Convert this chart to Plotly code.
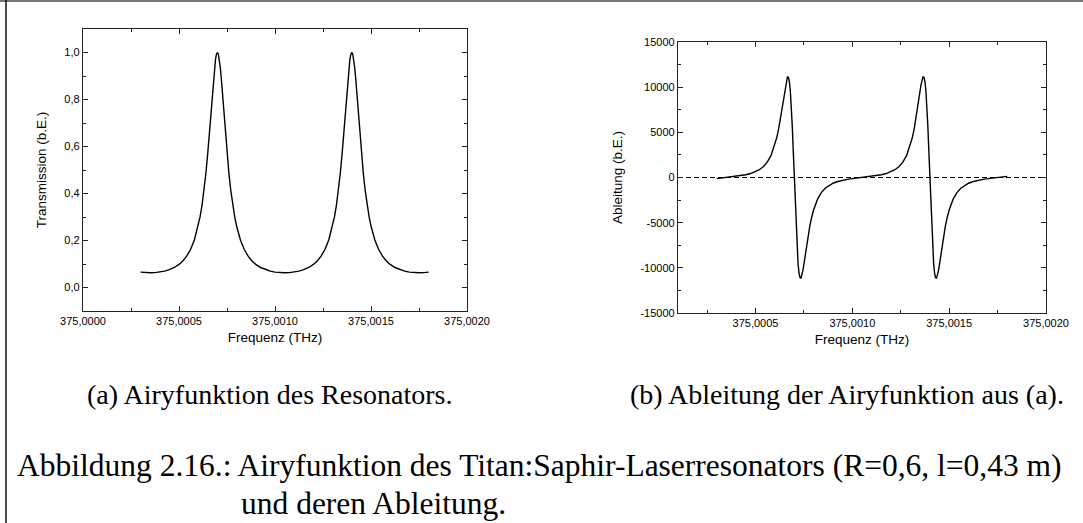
import plotly.graph_objects as go

# ---------------- data ----------------
freq_thz = [
    375.000300, 375.000325, 375.000350, 375.000375, 375.000400, 375.000425, 375.000450, 375.000475,
    375.000500, 375.000520, 375.000540, 375.000560, 375.000580, 375.000600, 375.000610, 375.000620,
    375.000630, 375.000640, 375.000650, 375.000655, 375.000660, 375.000665, 375.000670, 375.000675,
    375.000680, 375.000685, 375.000690, 375.000695, 375.000700,
    375.000705, 375.000710, 375.000715, 375.000720, 375.000725, 375.000730, 375.000735, 375.000740,
    375.000745, 375.000750, 375.000760, 375.000770, 375.000780, 375.000790, 375.000800, 375.000820,
    375.000840, 375.000860, 375.000880, 375.000900, 375.000925, 375.000950, 375.000975, 375.001000,
    375.001025, 375.001050,
    375.001075, 375.001100, 375.001125, 375.001150, 375.001175, 375.001200, 375.001220, 375.001240,
    375.001260, 375.001280, 375.001300, 375.001310, 375.001320, 375.001330, 375.001340, 375.001350,
    375.001355, 375.001360, 375.001365, 375.001370, 375.001375, 375.001380, 375.001385, 375.001390,
    375.001395, 375.001400,
    375.001405, 375.001410, 375.001415, 375.001420, 375.001425, 375.001430, 375.001435, 375.001440,
    375.001445, 375.001450, 375.001460, 375.001470, 375.001480, 375.001490, 375.001500, 375.001520,
    375.001540, 375.001560, 375.001580, 375.001600, 375.001625, 375.001650, 375.001675, 375.001700,
    375.001725, 375.001750, 375.001775, 375.001800,
]

transmission = [
    0.0655, 0.0632, 0.0625, 0.0632, 0.0655, 0.0696, 0.0759, 0.0851,
    0.0983, 0.1132, 0.1334, 0.1618, 0.2022, 0.2615, 0.3015, 0.3506,
    0.4111, 0.4851, 0.5738, 0.6236, 0.6765, 0.7315, 0.7872, 0.8417,
    0.8924, 0.9364, 0.9707, 0.9925, 1.0000,
    0.9925, 0.9707, 0.9364, 0.8924, 0.8417, 0.7872, 0.7315, 0.6765,
    0.6236, 0.5738, 0.4851, 0.4111, 0.3506, 0.3015, 0.2615, 0.2022,
    0.1618, 0.1334, 0.1132, 0.0983, 0.0851, 0.0759, 0.0696, 0.0655,
    0.0632, 0.0625,
    0.0632, 0.0655, 0.0696, 0.0759, 0.0851, 0.0983, 0.1132, 0.1334,
    0.1618, 0.2022, 0.2615, 0.3015, 0.3506, 0.4111, 0.4851, 0.5738,
    0.6236, 0.6765, 0.7315, 0.7872, 0.8417, 0.8924, 0.9364, 0.9707,
    0.9925, 1.0000,
    0.9925, 0.9707, 0.9364, 0.8924, 0.8417, 0.7872, 0.7315, 0.6765,
    0.6236, 0.5738, 0.4851, 0.4111, 0.3506, 0.3015, 0.2615, 0.2022,
    0.1618, 0.1334, 0.1132, 0.0983, 0.0851, 0.0759, 0.0696, 0.0655,
    0.0632, 0.0625, 0.0632, 0.0655,
]

derivative = [
    -126, -60, 0, 60, 126, 203, 303, 439,
    635, 861, 1188, 1675, 2423, 3599, 4422, 5446,
    6689, 8124, 9617, 10290, 10824, 11131, 11100, 10613,
    9574, 7924, 5686, 2975, 0,
    -2975, -5686, -7924, -9574, -10613, -11100, -11131, -10824,
    -10290, -9617, -8124, -6689, -5446, -4422, -3599, -2423,
    -1675, -1188, -861, -635, -439, -303, -203, -126,
    -60, 0,
    60, 126, 203, 303, 439, 635, 861, 1188,
    1675, 2423, 3599, 4422, 5446, 6689, 8124, 9617,
    10290, 10824, 11131, 11100, 10613, 9574, 7924, 5686,
    2975, 0,
    -2975, -5686, -7924, -9574, -10613, -11100, -11131, -10824,
    -10290, -9617, -8124, -6689, -5446, -4422, -3599, -2423,
    -1675, -1188, -861, -635, -439, -303, -203, -126,
    -60, 0, 60, 126,
]

zero_line_x = [375.0001, 375.0020]
zero_line_y = [0, 0]

x1_tickvals = [375.0000, 375.0005, 375.0010, 375.0015, 375.0020]
x1_ticktext = ["375,0000", "375,0005", "375,0010", "375,0015", "375,0020"]
y1_tickvals = [0.0, 0.2, 0.4, 0.6, 0.8, 1.0]
y1_ticktext = ["0,0", "0,2", "0,4", "0,6", "0,8", "1,0"]

x2_tickvals = [375.0005, 375.0010, 375.0015, 375.0020]
x2_ticktext = ["375,0005", "375,0010", "375,0015", "375,0020"]
y2_tickvals = [-15000, -10000, -5000, 0, 5000, 10000, 15000]
y2_ticktext = ["-15000", "-10000", "-5000", "0", "5000", "10000", "15000"]

caption_a = "(a) Airyfunktion des Resonators."
caption_b = "(b) Ableitung der Airyfunktion aus (a)."
caption_main_1 = "Abbildung 2.16.: Airyfunktion des Titan:Saphir-Laserresonators (R=0,6, l=0,43 m)"
caption_main_2 = "und deren Ableitung."

# ---------------- figure ----------------
W, H = 1083, 523
SANS = "Liberation Sans, Arial, sans-serif"
SERIF = "Liberation Serif, Times New Roman, serif"


def px_x(p):
    return p / W


def px_y(p):
    return 1 - p / H


fig = go.Figure()
fig.add_trace(go.Scatter(x=freq_thz, y=transmission, mode="lines",
                         line=dict(color="black", width=1.4),
                         xaxis="x", yaxis="y", showlegend=False))
fig.add_trace(go.Scatter(x=zero_line_x, y=zero_line_y, mode="lines",
                         line=dict(color="black", width=1.2, dash="5px,3px"),
                         xaxis="x2", yaxis="y2", showlegend=False))
fig.add_trace(go.Scatter(x=freq_thz, y=derivative, mode="lines",
                         line=dict(color="black", width=1.4),
                         xaxis="x2", yaxis="y2", showlegend=False))

common_axis = dict(
    showline=True, linecolor="#222", linewidth=1.3, mirror="ticks",
    ticks="inside", ticklen=5, tickwidth=1, tickcolor="#222",
    showgrid=False, zeroline=False,
    tickfont=dict(family=SANS, size=11, color="black"),
    automargin=False,
)

fig.update_layout(
    width=W, height=H,
    margin=dict(l=0, r=0, t=0, b=0),
    paper_bgcolor="white", plot_bgcolor="white",
    showlegend=False,
    xaxis=dict(common_axis, domain=[px_x(83), px_x(467)], range=[375.0000, 375.0020],
               tickmode="array", tickvals=x1_tickvals, ticktext=x1_ticktext,
               minor=dict(ticks="inside", ticklen=3, tickcolor="#222", dtick=0.00025, tick0=375.0),
               anchor="y",
               title=dict(text="Frequenz (THz)", standoff=6,
                          font=dict(family=SANS, size=13.5, color="black"))),
    yaxis=dict(common_axis, domain=[px_y(311), px_y(29)], range=[-0.1, 1.1],
               tickmode="array", tickvals=y1_tickvals, ticktext=y1_ticktext,
               minor=dict(ticks="inside", ticklen=3, tickcolor="#222", dtick=0.1, tick0=0),
               anchor="x",
               title=dict(text="Transmission (b.E.)", standoff=14,
                          font=dict(family=SANS, size=13.5, color="black"))),
    xaxis2=dict(common_axis, domain=[px_x(678), px_x(1046)], range=[375.0001, 375.0020],
                tickmode="array", tickvals=x2_tickvals, ticktext=x2_ticktext,
                minor=dict(ticks="inside", ticklen=3, tickcolor="#222", dtick=0.00025, tick0=375.0),
                anchor="y2",
                title=dict(text="Frequenz (THz)", standoff=6,
                           font=dict(family=SANS, size=13.5, color="black"))),
    yaxis2=dict(common_axis, domain=[px_y(313), px_y(42)], range=[-15000, 15000],
                tickmode="array", tickvals=y2_tickvals, ticktext=y2_ticktext,
                minor=dict(ticks="inside", ticklen=3, tickcolor="#222", dtick=2500, tick0=0),
                anchor="x2",
                title=dict(text="Ableitung (b.E.)", standoff=14,
                           font=dict(family=SANS, size=13.5, color="black"))),
)

# page frame lines (top grey rule, left black rule)
fig.add_shape(type="line", xref="paper", yref="paper", x0=0, x1=1, y0=px_y(1), y1=px_y(1),
              line=dict(color="#777", width=2))
fig.add_shape(type="line", xref="paper", yref="paper", x0=px_x(6), x1=px_x(6), y0=0, y1=1,
              line=dict(color="#111", width=1.5))

# captions
fig.add_annotation(text=caption_a, xref="paper", yref="paper", x=px_x(270), y=px_y(394),
                   xanchor="center", yanchor="middle", showarrow=False,
                   font=dict(family=SERIF, size=28, color="black"))
fig.add_annotation(text=caption_b, xref="paper", yref="paper", x=px_x(847), y=px_y(394),
                   xanchor="center", yanchor="middle", showarrow=False,
                   font=dict(family=SERIF, size=28, color="black"))
fig.add_annotation(text=caption_main_1, xref="paper", yref="paper", x=px_x(15), y=px_y(465),
                   xanchor="left", yanchor="middle", showarrow=False,
                   font=dict(family=SERIF, size=31.5, color="black"))
fig.add_annotation(text=caption_main_2, xref="paper", yref="paper", x=px_x(239), y=px_y(503),
                   xanchor="left", yanchor="middle", showarrow=False,
                   font=dict(family=SERIF, size=31.5, color="black"))

fig.write_html("out.html")
